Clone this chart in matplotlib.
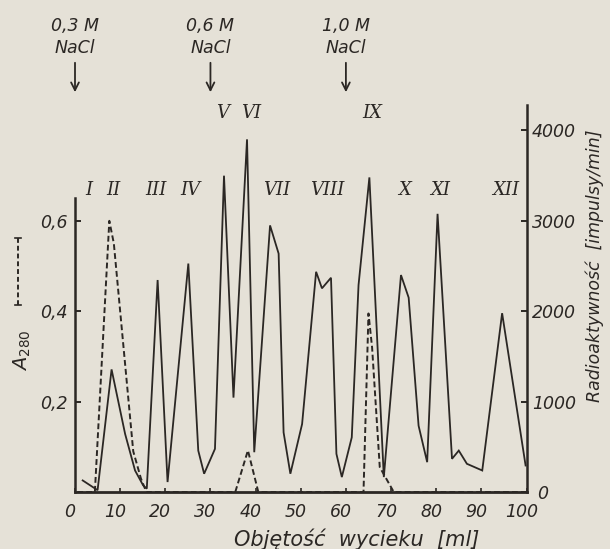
import matplotlib
matplotlib.use("Agg")
import matplotlib.pyplot as plt
from matplotlib.transforms import blended_transform_factory, ScaledTranslation

# ---- data ----
radio_ml = [1.7, 5.0, 8.1, 11.1, 13.3, 15.1, 15.9, 18.3, 20.5, 25.1, 27.3, 28.6, 31.0,
            33.0, 35.1, 38.1, 39.7, 43.2, 45.1, 46.2, 47.7, 50.3, 53.4, 54.7, 56.7,
            57.9, 59.1, 61.3, 62.8, 65.2, 68.4, 72.2, 73.9, 76.1, 78.0, 80.3, 83.5,
            85.0, 86.8, 90.2, 94.6, 99.8]
radio_cpm = [128, 20, 1356, 642, 238, 73, 37, 2345, 110, 2527, 458, 202, 477,
             3499, 1044, 3901, 440, 2949, 2637, 659, 202, 752, 2436, 2253, 2370,
             422, 165, 604, 2290, 3480, 165, 2400, 2150, 733, 330, 3077, 367,
             458, 312, 238, 1978, 293]

a280_ml = [0.5, 4.4, 7.6, 8.6, 12.9, 14.6, 15.8, 35.5, 38.3, 40.6, 63.9, 65.0, 65.8,
           67.5, 70.6, 100.0]
a280 = [0.0, 0.0, 0.60, 0.55, 0.09, 0.03, 0.0, 0.0, 0.092, 0.0, 0.0, 0.395, 0.32,
        0.055, 0.0, 0.0]

peak_labels = ["I", "II", "III", "IV", "V", "VI", "VII", "VIII", "IX", "X", "XI", "XII"]
peak_label_x = [3.0, 8.4, 17.9, 25.6, 32.7, 39.0, 44.6, 55.8, 65.8, 73.1, 80.9, 95.5]
peak_label_row = [2, 2, 2, 2, 1, 1, 2, 2, 1, 2, 2, 2]

salt_labels = ["0,3 M\nNaCl", "0,6 M\nNaCl", "1,0 M\nNaCl"]
salt_x = [0, 30, 60]

x_ticks = [0, 10, 20, 30, 40, 50, 60, 70, 80, 90, 100]
left_ticks = [0.2, 0.4, 0.6]
left_ticklabels = ["0,2", "0,4", "0,6"]
right_ticks = [0, 1000, 2000, 3000, 4000]

# ---- style ----
W, H = 610, 549
bg = "#e5e1d7"
ink = "#2b2724"
plt.rcParams["font.family"] = ["DejaVu Sans"]

fig = plt.figure(figsize=(W / 100, H / 100), dpi=100, facecolor=bg)
x0, x1 = 75, 526.5
yb, yt = 492.0, 105
ax = fig.add_axes([x0 / W, 1 - yb / H, (x1 - x0) / W, (yb - yt) / H])
ax.set_facecolor("none")
A_TOP = (yb - yt) / 452.0
ax.set_xlim(0, 100)
ax.set_ylim(0, A_TOP)

axr = ax.twinx()
axr.set_ylim(0, A_TOP * 5000)

# lines
axr.plot(radio_ml, radio_cpm, color=ink, lw=1.3, solid_joinstyle="miter")
ax.plot(a280_ml, a280, color=ink, lw=1.4, linestyle=(0, (3.0, 1.6)))

# spines
for a in (ax, axr):
    for s in ("top", "left", "right", "bottom"):
        a.spines[s].set_visible(False)
ax.spines["left"].set_visible(True)
ax.spines["left"].set_bounds(0, (yb - 198) / 452.0)
ax.spines["left"].set_linewidth(1.8)
ax.spines["left"].set_color(ink)
ax.spines["bottom"].set_visible(True)
ax.spines["bottom"].set_linewidth(2.0)
ax.spines["bottom"].set_color(ink)
axr.spines["right"].set_visible(True)
axr.spines["right"].set_linewidth(1.8)
axr.spines["right"].set_color(ink)

ax.set_xticks(x_ticks)
ax.set_xticklabels([str(v) for v in x_ticks], fontstyle="italic", fontsize=12.5, color=ink)
ax.tick_params(axis="x", direction="in", length=3, width=1.2, color=ink, pad=8)
off = ScaledTranslation(-5 / 100, 0, fig.dpi_scale_trans)
for lab in ax.get_xticklabels():
    lab.set_transform(lab.get_transform() + off)

ax.set_yticks(left_ticks)
ax.set_yticklabels(left_ticklabels, fontstyle="italic", fontsize=12.5, color=ink)
ax.tick_params(axis="y", direction="in", length=4, width=1.4, color=ink, pad=5)

axr.set_yticks(right_ticks)
axr.set_yticklabels([str(v) for v in right_ticks], fontstyle="italic", fontsize=12.5, color=ink)
axr.tick_params(axis="y", direction="in", length=4, width=1.4, color=ink, pad=4)
rl = axr.get_yticklabels()
rl[0].set_transform(rl[0].get_transform() + ScaledTranslation(5 / 100, 0, fig.dpi_scale_trans))

# peak roman numerals
row_y = {1: (yb - 113) / 452.0, 2: (yb - 190) / 452.0}
for lab, xv, r in zip(peak_labels, peak_label_x, peak_label_row):
    ax.text(xv, row_y[r], lab, family="DejaVu Serif", style="italic", fontsize=13,
            color=ink, ha="center", va="center")

# salt steps
tr = blended_transform_factory(ax.transData, fig.transFigure)
for lab, xv in zip(salt_labels, salt_x):
    ax.text(xv, 1 - 37 / H, lab, transform=tr, ha="center", va="center",
            fontstyle="italic", fontsize=12.5, color=ink, linespacing=1.25)
    ax.annotate("", xy=(xv, 1 - 95 / H), xytext=(xv, 1 - 60 / H),
                xycoords=tr, textcoords=tr,
                arrowprops=dict(arrowstyle="->", color=ink, lw=1.3, mutation_scale=14))

# axis labels
fig.text(357 / W, 1 - 539 / H, "Objętość  wycieku  [ml]", ha="center", va="center",
         fontstyle="italic", fontsize=15, color=ink)
fig.text(595 / W, 1 - 266 / H, "Radioaktywność  [impulsy/min]", ha="center", va="center",
         rotation=90, fontstyle="italic", fontsize=12.5, color=ink)
fig.text(22 / W, 1 - 350 / H, r"A$_{280}$", ha="center", va="center",
         rotation=90, fontstyle="italic", fontsize=14, color=ink)
# dashed legend key for A280
fig.add_artist(plt.Line2D([18 / W, 18 / W], [1 - 238 / H, 1 - 305 / H],
                          color=ink, lw=1.4, linestyle=(0, (2.5, 1.5))))
for yy in (238, 305):
    fig.add_artist(plt.Line2D([15 / W, 21 / W], [1 - yy / H, 1 - yy / H], color=ink, lw=1.2))

fig.savefig("out.png", dpi=100, facecolor=bg)
